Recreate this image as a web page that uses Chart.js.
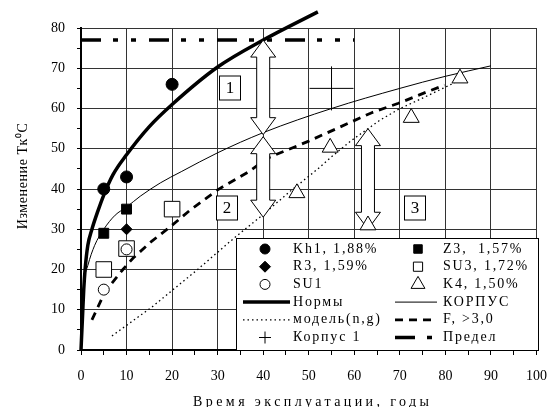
<!DOCTYPE html>
<html>
<head>
<meta charset="utf-8">
<script src="https://cdn.jsdelivr.net/npm/chart.js@4.4.0/dist/chart.umd.min.js"></script>
<style>
  html, body { margin: 0; padding: 0; background: #fff; }
  canvas { display: block; }
</style>
</head>
<body>
<canvas id="grafica" width="547" height="407"></canvas>
<script>
// точки измерений (годы, изменение Тк)
const kh1 = [[5, 40], [10, 43], [20, 66]]
const z3 = [[5, 29], [10, 35]]
const r3 = [[10, 30]]
const su3 = [[5, 20], [10, 25.2], [20, 35]]
const su1 = [[5, 15], [10, 25]]
const k4 = [[47.4, 39], [54.7, 50.3], [63, 31], [72.5, 57.7], [83.2, 67.5]]
const korpus1 = [[55, 65]]

// кривые
const normy = [[0, 0], [0.2, 5], [0.4, 10], [0.6, 15], [0.9, 20], [1.5, 26], [2.4, 30], [3.7, 34.5], [5, 38.5],
  [7, 43.5], [10, 48.5], [15, 55.5], [20, 61], [30, 70.3], [40, 77], [52, 84]]
const korpus = [[0.3, 10], [0.7, 17], [1.5, 21], [3, 26], [5, 30], [7.5, 33.5], [10, 35.5], [13, 38.2],
  [17.4, 41.5], [22, 44.3], [30, 49], [40, 54], [55, 60], [70, 65], [80, 68], [90, 70.6]]
const model = [[6.8, 3.5], [15.6, 10.7], [25.6, 20], [33.6, 27.8], [39.6, 33.3], [46, 39.5], [52, 45],
  [55, 48], [59.3, 52], [65.5, 57], [69.7, 59.8], [75.4, 62.8], [82, 66.4], [84, 67.8]]
const fLine = [[2.4, 7.5], [5.3, 14.5], [9.2, 20], [11.4, 22.8], [15.5, 27], [19.8, 30.8], [24, 34.8],
  [30, 39.8], [36.7, 44.2], [41, 47.7], [50, 51.9], [56.5, 55.2], [63.7, 58.9], [69.7, 61.3], [76.3, 64.3], [79.8, 65.8]]
const predel = [[0, 77], [60, 77]]

// стрелки (x, верх, низ) и номера зон
const arrows = [[40, 77, 53.5], [40, 53, 33], [63, 55, 30]]
const zoneNames = ['1', '2', '3']
const zonePos = [[32.7, 65.2], [32, 35.3], [73.3, 35.3]]

const xTitle = 'Время эксплуатации, годы'
const yTitle = 'Изменение Тк⁰С'

const pts = a => a.map(p => ({ x: p[0], y: p[1] }))

function marker (label, data, style, radius, filled, legendRadius) {
  return {
    label: label,
    data: pts(data),
    showLine: false,
    pointStyle: style,
    pointRadius: radius,
    pointHoverRadius: radius,
    pointBackgroundColor: filled ? '#000' : '#fff',
    pointBorderColor: '#000',
    pointBorderWidth: 1,
    legendRadius: legendRadius
  }
}

function curve (label, data, width, dash, smooth) {
  return {
    label: label,
    data: pts(data),
    showLine: true,
    pointRadius: 0,
    borderColor: '#000',
    borderWidth: width,
    borderDash: dash,
    cubicInterpolationMode: smooth ? 'monotone' : 'default',
    tension: 0,
    clip: { left: 2, top: 20, right: 2, bottom: 2 }
  }
}

const datasets = [
  marker('Kh1, 1,88%', kh1, 'circle', 6, true, 5),
  marker('Z3,  1,57%', z3, 'rect', 7, true, 6),
  marker('R3, 1,59%', r3, 'rectRot', 5.5, true, 5.5),
  marker('SU3, 1,72%', su3, 'rect', 11, false, 6.5),
  Object.assign(marker('SU1', su1, 'circle', 5.5, false, 5), { order: -1 }),
  marker('K4, 1,50%', k4, 'triangle', 9.2, false, 8),
  curve('Нормы', normy, 3.5, [], true),
  curve('КОРПУС', korpus, 1, [], true),
  curve('модель(n,g)', model, 1.3, [1.5, 3], false),
  curve('F, >3,0', fLine, 2.8, [8, 6], false),
  marker('Корпус 1', korpus1, 'cross', 22, false, 6),
  curve('Предел', predel, 3.5, [20, 12, 5, 13, 5, 13], false)
]
// стрелки рисуются поверх кривых, но под треугольниками K4
const arrowsUnder = datasets.findIndex(d => d.label.startsWith('K4'))

function arrowPath (cx, y1, y2) {
  const s = 6.5, h = 12.5, l = 17
  const p = new Path2D()
  p.moveTo(cx, y1)
  p.lineTo(cx + h, y1 + l); p.lineTo(cx + s, y1 + l); p.lineTo(cx + s, y2 - l); p.lineTo(cx + h, y2 - l)
  p.lineTo(cx, y2)
  p.lineTo(cx - h, y2 - l); p.lineTo(cx - s, y2 - l); p.lineTo(cx - s, y1 + l); p.lineTo(cx - h, y1 + l)
  p.closePath()
  return p
}

// стрелки и рамки с номерами зон
const zones = {
  id: 'zones',
  beforeDatasetDraw (chart, args) {
    if (args.index !== arrowsUnder) return
    const ctx = chart.ctx
    const x = chart.scales.x, y = chart.scales.y
    ctx.save()
    const paths = arrows.map(a => arrowPath(x.getPixelForValue(a[0]), y.getPixelForValue(a[1]), y.getPixelForValue(a[2])))
    ctx.fillStyle = '#fff'
    paths.forEach(p => ctx.fill(p))
    ctx.strokeStyle = '#000'
    ctx.lineWidth = 1
    paths.forEach(p => ctx.stroke(p))
    ctx.font = '17px "Liberation Serif"'
    ctx.textAlign = 'center'
    ctx.textBaseline = 'middle'
    zoneNames.forEach((n, i) => {
      const cx = Math.round(x.getPixelForValue(zonePos[i][0]))
      const cy = Math.round(y.getPixelForValue(zonePos[i][1]))
      ctx.fillStyle = '#fff'
      ctx.fillRect(cx - 10.5, cy - 12, 21, 24)
      ctx.strokeRect(cx - 10.5, cy - 12, 21, 24)
      ctx.fillStyle = '#000'
      ctx.fillText(n, cx, cy + 1)
    })
    ctx.restore()
  }
}

// легенда в две колонки внутри поля графика
const legendBox = {
  id: 'legendBox',
  afterDraw (chart) {
    const ctx = chart.ctx
    const area = chart.chartArea
    const w = 303, h = 112
    const left = Math.round(area.right) + 2 - w, top = Math.round(area.bottom) - h
    ctx.save()
    ctx.fillStyle = '#fff'
    ctx.fillRect(left, top, w, h)
    ctx.strokeStyle = '#000'
    ctx.lineWidth = 1
    ctx.strokeRect(left + 0.5, top + 0.5, w - 1, h)
    ctx.font = '14px "Liberation Serif"'
    ctx.textBaseline = 'middle'
    ctx.letterSpacing = '1.8px'
    chart.data.datasets.forEach((ds, i) => {
      const col = i % 2, row = Math.floor(i / 2)
      const cy = top + 11 + row * 17.7
      const lx = left + (col ? 159 : 7)
      const mx = left + (col ? 182 : 29)
      const tx = left + (col ? 207 : 57)
      ctx.strokeStyle = '#000'
      if (ds.showLine) {
        ctx.lineWidth = ds.borderWidth
        ctx.setLineDash(ds.borderDash)
        ctx.beginPath()
        ctx.moveTo(lx, cy)
        ctx.lineTo(lx + (col ? 42 : 47), cy)
        ctx.stroke()
        ctx.setLineDash([])
      } else {
        ctx.lineWidth = 1
        ctx.fillStyle = ds.pointBackgroundColor
        Chart.helpers.drawPoint(ctx, { pointStyle: ds.pointStyle, radius: ds.legendRadius, rotation: 0, borderWidth: 1 }, mx, cy)
      }
      ctx.fillStyle = '#000'
      ctx.fillText(ds.label, tx, cy)
    })
    ctx.restore()
  }
}

// разрядка букв и небольшой сдвиг подписи оси
function spacedTitle (px, dx, dy) {
  return function (scale) {
    if (scale._spaced) return
    const draw = scale.drawTitle.bind(scale)
    scale.drawTitle = function () {
      const ctx = scale.ctx
      ctx.save()
      ctx.translate(dx, dy)
      ctx.letterSpacing = px
      draw()
      ctx.restore()
    }
    scale._spaced = true
  }
}

Chart.defaults.font.family = '"Liberation Serif", serif'
Chart.defaults.color = '#000'

const gridColor = c => (c.tick.value % 10 === 0 ? '#333' : 'rgba(0,0,0,0)')

new Chart(document.getElementById('grafica'), {
  type: 'scatter',
  data: { datasets: datasets },
  options: {
    responsive: false,
    animation: false,
    events: [],
    layout: { autoPadding: false, padding: { top: 28, right: 10, left: 0, bottom: 0 } },
    plugins: { legend: { display: false }, tooltip: { enabled: false } },
    scales: {
      x: {
        type: 'linear',
        min: 0,
        max: 100,
        border: { color: '#000', width: 2 },
        grid: { color: gridColor, lineWidth: 1, tickLength: 5, tickColor: '#000' },
        ticks: {
          stepSize: 5,
          autoSkip: false,
          maxRotation: 0,
          padding: 0,
          font: { size: 14, lineHeight: '42px' },
          callback: v => (v % 10 === 0 ? v : '')
        },
        title: { display: true, text: xTitle, font: { size: 14 }, padding: { top: 0, bottom: -4 } },
        afterFit (scale) {
          scale.height = 57
          spacedTitle('3.4px', 4, 0)(scale)
        }
      },
      y: {
        type: 'linear',
        min: 0,
        max: 80,
        border: { color: '#000', width: 2 },
        grid: { color: gridColor, lineWidth: 1, tickLength: 4, tickColor: '#000' },
        ticks: {
          stepSize: 5,
          autoSkip: false,
          padding: 12,
          font: { size: 14 },
          callback: v => (v % 10 === 0 ? v : '')
        },
        title: { display: true, text: yTitle, font: { size: 14 }, padding: { top: 15, bottom: 0 } },
        afterFit (scale) {
          scale.width = 81
          spacedTitle('0.6px', 0, -13)(scale)
        }
      }
    }
  },
  plugins: [zones, legendBox]
})
</script>
</body>
</html>
